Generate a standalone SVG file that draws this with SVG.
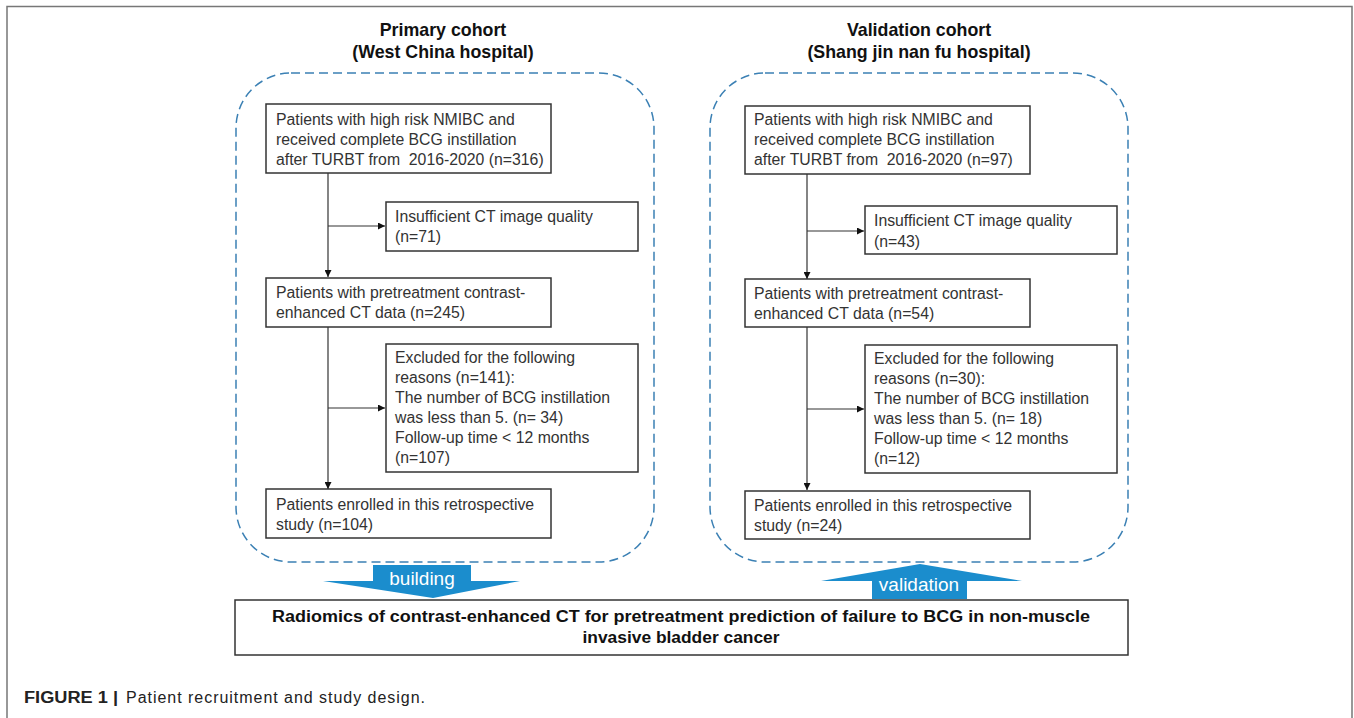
<svg xmlns="http://www.w3.org/2000/svg" width="1354" height="718" viewBox="0 0 1354 718">
<style>
.box{fill:#fff;stroke:#333;stroke-width:1.5}
.t{font-family:"Liberation Sans",Arial,sans-serif;font-size:15.8px;fill:#333}
.h{font-family:"Liberation Sans",Arial,sans-serif;font-size:17.8px;font-weight:bold;fill:#111;text-anchor:middle}
.cont{fill:none;stroke:#3b80b4;stroke-width:1.5;stroke-dasharray:9 5}
.ln{fill:none;stroke:#333;stroke-width:1.2}
.big{fill:#1b8dcd}
.bt{font-family:"Liberation Sans",Arial,sans-serif;font-size:19px;fill:#fff;text-anchor:middle}
.cap{font-family:"Liberation Sans",Arial,sans-serif;font-size:16px;fill:#222}
</style>
<defs>
<marker id="ah" viewBox="0 0 10 10" refX="10" refY="5" markerWidth="7" markerHeight="7" markerUnits="userSpaceOnUse" orient="auto">
<path d="M0,0 L10,5 L0,10 z" fill="#111"/>
</marker>
</defs>
<rect width="1354" height="718" fill="#fff"/>
<path d="M7,718 V6.5 H1352 V718" fill="none" stroke="#777" stroke-width="1.5"/>

<g id="titles">
<text class="h" x="443" y="36">Primary cohort</text>
<text class="h" x="443" y="58">(West China hospital)</text>
<text class="h" x="919" y="36">Validation cohort</text>
<text class="h" x="919" y="58">(Shang jin nan fu hospital)</text>
</g>

<g id="containers">
<rect id="primary-container" class="cont" x="236" y="73" width="418" height="489" rx="55" ry="55"/>
<rect id="validation-container" class="cont" x="710" y="73" width="418" height="489" rx="55" ry="55"/>
</g>

<g id="connectors">
<line class="ln" x1="328" y1="173" x2="328" y2="277" marker-end="url(#ah)"/>
<line class="ln" x1="328" y1="226" x2="385" y2="226" marker-end="url(#ah)"/>
<line class="ln" x1="328" y1="327" x2="328" y2="489" marker-end="url(#ah)"/>
<line class="ln" x1="328" y1="408" x2="385" y2="408" marker-end="url(#ah)"/>
<line class="ln" x1="807" y1="174" x2="807" y2="279" marker-end="url(#ah)"/>
<line class="ln" x1="807" y1="231" x2="864" y2="231" marker-end="url(#ah)"/>
<line class="ln" x1="807" y1="327" x2="807" y2="490" marker-end="url(#ah)"/>
<line class="ln" x1="807" y1="409" x2="864" y2="409" marker-end="url(#ah)"/>
</g>

<g id="p-start">
<rect class="box" x="266" y="104" width="285" height="69"/>
<text class="t" x="276" y="125">Patients with high risk NMIBC and</text>
<text class="t" x="276" y="145">received complete BCG instillation</text>
<text class="t" x="276" y="165" xml:space="preserve">after TURBT from  2016-2020 (n=316)</text>
</g>
<g id="p-excl1">
<rect class="box" x="386" y="202" width="252" height="49"/>
<text class="t" x="395" y="222">Insufficient CT image quality</text>
<text class="t" x="395" y="242">(n=71)</text>
</g>
<g id="p-ct">
<rect class="box" x="266" y="278" width="285" height="49"/>
<text class="t" x="276" y="298">Patients with pretreatment contrast-</text>
<text class="t" x="276" y="318">enhanced CT data (n=245)</text>
</g>
<g id="p-excl2">
<rect class="box" x="386" y="344" width="252" height="128"/>
<text class="t" x="395" y="363">Excluded for the following</text>
<text class="t" x="395" y="383">reasons (n=141):</text>
<text class="t" x="395" y="403">The number of BCG instillation</text>
<text class="t" x="395" y="423">was less than 5. (n= 34)</text>
<text class="t" x="395" y="443">Follow-up time &lt; 12 months</text>
<text class="t" x="395" y="463">(n=107)</text>
</g>
<g id="p-enrolled">
<rect class="box" x="266" y="489" width="285" height="49"/>
<text class="t" x="276" y="510">Patients enrolled in this retrospective</text>
<text class="t" x="276" y="530">study (n=104)</text>
</g>

<g id="v-start">
<rect class="box" x="745" y="106" width="285" height="68"/>
<text class="t" x="754" y="125">Patients with high risk NMIBC and</text>
<text class="t" x="754" y="145">received complete BCG instillation</text>
<text class="t" x="754" y="165" xml:space="preserve">after TURBT from  2016-2020 (n=97)</text>
</g>
<g id="v-excl1">
<rect class="box" x="865" y="206" width="252" height="48"/>
<text class="t" x="874" y="226">Insufficient CT image quality</text>
<text class="t" x="874" y="247">(n=43)</text>
</g>
<g id="v-ct">
<rect class="box" x="745" y="279" width="285" height="48"/>
<text class="t" x="754" y="299">Patients with pretreatment contrast-</text>
<text class="t" x="754" y="319">enhanced CT data (n=54)</text>
</g>
<g id="v-excl2">
<rect class="box" x="865" y="345" width="252" height="128"/>
<text class="t" x="874" y="364">Excluded for the following</text>
<text class="t" x="874" y="384">reasons (n=30):</text>
<text class="t" x="874" y="404">The number of BCG instillation</text>
<text class="t" x="874" y="424">was less than 5. (n= 18)</text>
<text class="t" x="874" y="444">Follow-up time &lt; 12 months</text>
<text class="t" x="874" y="464">(n=12)</text>
</g>
<g id="v-enrolled">
<rect class="box" x="745" y="491" width="285" height="48"/>
<text class="t" x="754" y="511">Patients enrolled in this retrospective</text>
<text class="t" x="754" y="531">study (n=24)</text>
</g>

<g id="building-arrow">
<path class="big" d="M373,565 H471 V581 H520 L433,598 L323,581 H373 Z"/>
<text class="bt" x="422" y="585">building</text>
</g>
<g id="validation-arrow">
<path class="big" d="M920,564 L1022,581 H967 V599 H872 V581 H821 Z"/>
<text class="bt" x="919" y="591">validation</text>
</g>

<g id="result">
<rect class="box" x="235" y="600" width="893" height="55"/>
<text x="681" y="622" text-anchor="middle" font-family="'Liberation Sans',Arial,sans-serif" font-size="16" font-weight="bold" fill="#111" textLength="818" lengthAdjust="spacingAndGlyphs">Radiomics of contrast-enhanced CT for pretreatment prediction of failure to BCG in non-muscle</text>
<text x="681" y="643" text-anchor="middle" font-family="'Liberation Sans',Arial,sans-serif" font-size="16" font-weight="bold" fill="#111" textLength="197" lengthAdjust="spacingAndGlyphs">invasive bladder cancer</text>
</g>

<g id="caption">
<text class="cap" x="24" y="703" font-weight="bold" textLength="94" lengthAdjust="spacingAndGlyphs">FIGURE 1 |</text>
<text class="cap" x="126" y="703" textLength="299" lengthAdjust="spacing">Patient recruitment and study design.</text>
</g>
</svg>
